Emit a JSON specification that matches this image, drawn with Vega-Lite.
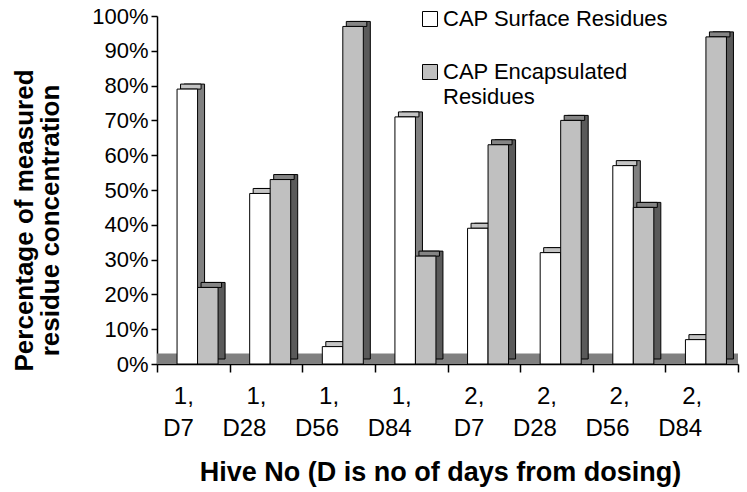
{
  "$schema": "https://vega.github.io/schema/vega-lite/v6.json",
  "width": 581,
  "height": 348,
  "autosize": {"type": "none"},
  "padding": {"left": 157, "top": 16, "right": 9, "bottom": 128},
  "background": "white",
  "config": {
    "view": {"stroke": null},
    "font": "Liberation Sans",
    "style": {"guide-label": {"lineHeight": 25}},
    "axis": {
      "domainColor": "black",
      "tickColor": "black",
      "labelColor": "black",
      "titleColor": "black",
      "domainWidth": 1.5,
      "tickWidth": 1.5,
      "grid": false,
      "labelFont": "Liberation Sans",
      "titleFont": "Liberation Sans"
    },
    "axisY": {"labelOverlap": false, "tickCount": 11},
    "legend": {"labelFont": "Liberation Sans"}
  },
  "data": {
    "values": [
      {"hive": "1, D7", "series": "CAP Surface Residues", "value": 0.79},
      {"hive": "1, D7", "series": "CAP Encapsulated Residues", "value": 0.22},
      {"hive": "1, D28", "series": "CAP Surface Residues", "value": 0.49},
      {"hive": "1, D28", "series": "CAP Encapsulated Residues", "value": 0.53},
      {"hive": "1, D56", "series": "CAP Surface Residues", "value": 0.05},
      {"hive": "1, D56", "series": "CAP Encapsulated Residues", "value": 0.97},
      {"hive": "1, D84", "series": "CAP Surface Residues", "value": 0.71},
      {"hive": "1, D84", "series": "CAP Encapsulated Residues", "value": 0.31},
      {"hive": "2, D7", "series": "CAP Surface Residues", "value": 0.39},
      {"hive": "2, D7", "series": "CAP Encapsulated Residues", "value": 0.63},
      {"hive": "2, D28", "series": "CAP Surface Residues", "value": 0.32},
      {"hive": "2, D28", "series": "CAP Encapsulated Residues", "value": 0.70},
      {"hive": "2, D56", "series": "CAP Surface Residues", "value": 0.57},
      {"hive": "2, D56", "series": "CAP Encapsulated Residues", "value": 0.45},
      {"hive": "2, D84", "series": "CAP Surface Residues", "value": 0.07},
      {"hive": "2, D84", "series": "CAP Encapsulated Residues", "value": 0.94}
    ]
  },
  "layer": [
    {
      "data": {"values": [{"floor": "floor"}]},
      "mark": {"type": "rect", "fill": "#808080"},
      "encoding": {
        "y": {
          "datum": 0,
          "type": "quantitative",
          "scale": {"domain": [0, 1], "nice": false},
          "axis": {
            "values": [0, 0.1, 0.2, 0.3, 0.4, 0.5, 0.6, 0.7, 0.8, 0.9, 1],
            "format": ".0%",
            "labelFontSize": 22,
            "labelOverlap": false,
            "tickSize": 6,
            "labelPadding": 3,
            "title": ["Percentage of measured", "residue concentration"],
            "titleFontSize": 26,
            "titleFontWeight": "bold",
            "titleLineHeight": 26,
            "titleAngle": -90,
            "titleAlign": "center",
            "titleBaseline": "alphabetic",
            "titleX": -125,
            "titleY": 204
          }
        },
        "y2": {"datum": 0.03}
      }
    },
    {
      "transform": [{"filter": "datum.series === 'CAP Surface Residues'"}],
      "mark": {"type": "bar", "width": {"band": 0.2823}, "xOffset": 1, "yOffset": -5, "y2Offset": -5, "fill": "#808080", "stroke": "black", "strokeWidth": 1},
      "encoding": {
        "x": {"field": "hive", "type": "nominal", "sort": null},
        "y": {"field": "value", "type": "quantitative"}
      }
    },
    {
      "transform": [{"filter": "datum.series === 'CAP Surface Residues'"}],
      "mark": {"type": "bar", "width": {"band": 0.2823}, "xOffset": -2.5, "yOffset": -5, "fill": "#c4c4c4", "stroke": "black", "strokeWidth": 1},
      "encoding": {
        "x": {"field": "hive", "type": "nominal", "sort": null},
        "y": {"field": "value", "type": "quantitative"},
        "y2": {"field": "value"}
      }
    },
    {
      "transform": [{"filter": "datum.series === 'CAP Surface Residues'"}],
      "mark": {"type": "bar", "width": {"band": 0.2823}, "xOffset": -6, "stroke": "black", "strokeWidth": 1},
      "encoding": {
        "x": {"field": "hive", "type": "nominal", "sort": null},
        "y": {"field": "value", "type": "quantitative"},
        "fill": {"field": "series", "type": "nominal", "sort": null}
      }
    },
    {
      "transform": [{"filter": "datum.series === 'CAP Encapsulated Residues'"}],
      "mark": {"type": "bar", "width": {"band": 0.2823}, "xOffset": 21.5, "yOffset": -5, "y2Offset": -5, "fill": "#5a5a5a", "stroke": "black", "strokeWidth": 1},
      "encoding": {
        "x": {"field": "hive", "type": "nominal", "sort": null},
        "y": {"field": "value", "type": "quantitative"}
      }
    },
    {
      "transform": [{"filter": "datum.series === 'CAP Encapsulated Residues'"}],
      "mark": {"type": "bar", "width": {"band": 0.2823}, "xOffset": 18, "yOffset": -5, "fill": "#858585", "stroke": "black", "strokeWidth": 1},
      "encoding": {
        "x": {"field": "hive", "type": "nominal", "sort": null},
        "y": {"field": "value", "type": "quantitative"},
        "y2": {"field": "value"}
      }
    },
    {
      "transform": [{"filter": "datum.series === 'CAP Encapsulated Residues'"}],
      "mark": {"type": "bar", "width": {"band": 0.2823}, "xOffset": 14.5, "stroke": "black", "strokeWidth": 1},
      "encoding": {
        "x": {
          "field": "hive",
          "type": "nominal",
          "sort": null,
          "scale": {"paddingInner": 0, "paddingOuter": 0},
          "axis": {
            "title": "Hive No (D is no of days from dosing)",
            "labelExpr": "split(datum.label, ' ')",
            "labelAngle": 0,
            "tickBand": "extent",
            "labelFontSize": 24,
            "labelLineHeight": 32,
            "labelBaseline": "alphabetic",
            "labelPadding": 31,
            "labelOverlap": false,
            "tickSize": 8,
            "titleFontSize": 27,
            "titleFontWeight": "bold",
            "titleBaseline": "alphabetic",
            "titleX": 283,
            "titleY": 116
          }
        },
        "y": {
          "field": "value",
          "type": "quantitative",
          "axis": {
            "values": [0, 0.1, 0.2, 0.3, 0.4, 0.5, 0.6, 0.7, 0.8, 0.9, 1],
            "format": ".0%",
            "labelFontSize": 22,
            "labelOverlap": false,
            "tickSize": 6,
            "labelPadding": 3,
            "title": ["Percentage of measured", "residue concentration"],
            "titleFontSize": 26,
            "titleFontWeight": "bold",
            "titleLineHeight": 26,
            "titleAngle": -90,
            "titleAlign": "center",
            "titleBaseline": "alphabetic",
            "titleX": -125,
            "titleY": 204
          }
        },
        "fill": {
          "field": "series",
          "type": "nominal",
          "sort": null,
          "scale": {"domain": ["CAP Surface Residues", "CAP Encapsulated Residues"], "range": ["#ffffff", "#c0c0c0"]},
          "legend": {
            "title": null,
            "orient": "none",
            "legendX": 262,
            "legendY": -8,
            "symbolType": "square",
            "symbolSize": 225,
            "symbolStrokeColor": "black",
            "symbolStrokeWidth": 1,
            "labelFontSize": 22,
            "labelColor": "black",
            "labelOffset": 2,
            "labelLimit": 400,
            "rowPadding": 31,
            "labelExpr": "datum.label == 'CAP Encapsulated Residues' ? ['CAP Encapsulated', 'Residues'] : datum.label"
          }
        }
      }
    }
  ]
}
